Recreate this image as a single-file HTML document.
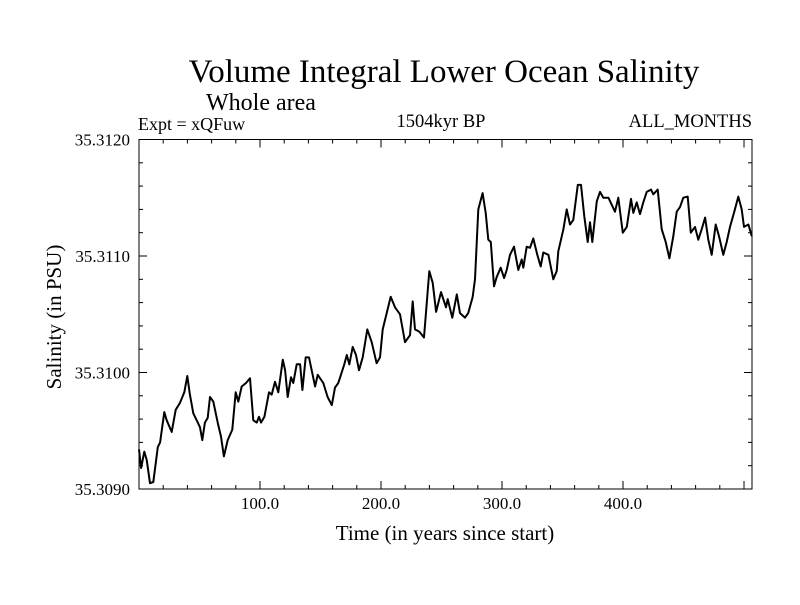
<!DOCTYPE html>
<html><head><meta charset="utf-8"><style>
body{margin:0;background:#fff;}
svg text{font-family:"Liberation Serif",serif;fill:#000;}
</style></head><body>
<svg id="chart" width="800" height="600" xmlns="http://www.w3.org/2000/svg">
<rect width="800" height="600" fill="#fff"/>
<text x="444" y="82" font-size="33" text-anchor="middle">Volume Integral Lower Ocean Salinity</text>
<text x="206" y="110" font-size="24">Whole area</text>
<text x="138" y="130" font-size="18">Expt = xQFuw</text>
<text x="441" y="127" font-size="18.5" text-anchor="middle">1504kyr BP</text>
<text x="752" y="127" font-size="18.5" text-anchor="end">ALL_MONTHS</text>
<text x="445" y="540" font-size="21" text-anchor="middle">Time (in years since start)</text>
<text x="0" y="0" font-size="21" text-anchor="middle" transform="translate(61,317) rotate(-90)">Salinity (in PSU)</text>
<g id="axes"></g>
<g id="series"></g>
<rect x="139" y="139.5" width="613" height="349.5" fill="none" stroke="#000" stroke-width="1"/>
</svg>
<script>
const years=[0,1.7,4.4,6.4,9.1,11.8,15.5,17.4,20.9,22.9,27.0,30.3,33.9,37.4,39.9,42.1,44.9,47.7,50.4,52.3,54.5,56.8,58.7,61.4,65.0,67.8,70.2,73.3,77.1,79.9,82.1,84.9,88.4,91.7,94.5,97.3,99.2,100.8,103.6,107.4,109.7,112.4,115.1,118.8,120.7,122.9,125.6,127.5,130.3,133.1,135.0,137.8,140.5,145.5,147.7,152.3,155.9,159.3,162.0,164.7,169.7,171.7,173.8,176.6,179.3,181.8,184.9,188.7,192.3,196.4,199.2,201.4,204.7,208.0,211.6,215.7,219.8,224.0,226.2,228.1,231.7,235.5,239.9,242.7,245.5,249.6,253.7,255.1,258.9,262.6,265.3,269.4,272.1,275.8,277.7,280.4,284.0,286.5,288.7,290.7,293.4,295.6,298.9,301.7,303.9,306.6,309.9,313.5,316.3,317.6,320.4,323.1,325.9,329.2,332.0,334.1,338.3,342.4,345.2,346.5,350.7,353.5,356.2,358.9,362.6,365.3,368.0,370.8,372.7,374.6,378.3,381.0,383.7,387.9,393.4,396.1,399.8,403.1,406.6,408.5,411.3,414.0,416.8,419.6,423.1,425.0,428.7,432.0,435.3,438.3,441.6,444.4,447.1,449.8,453.5,456.0,459.5,462.2,465.0,467.8,470.5,473.3,476.6,479.3,482.9,485.7,488.4,492.0,495.3,498.1,500.0,503.6,506.4];
const salinity=[35.30934,35.30918,35.30932,35.30925,35.30905,35.30906,35.30936,35.30940,35.30966,35.30959,35.30949,35.30968,35.30974,35.30983,35.30997,35.30981,35.30965,35.30959,35.30953,35.30942,35.30957,35.30961,35.30979,35.30975,35.30957,35.30945,35.30928,35.30942,35.30951,35.30983,35.30975,35.30988,35.30991,35.30995,35.30959,35.30957,35.30962,35.30957,35.30962,35.30983,35.30981,35.30992,35.30983,35.31011,35.31002,35.30979,35.30996,35.30991,35.31007,35.31007,35.30985,35.31013,35.31013,35.30988,35.30998,35.30991,35.30979,35.30972,35.30987,35.30991,35.31007,35.31015,35.31007,35.31022,35.31015,35.31002,35.31013,35.31037,35.31026,35.31008,35.31013,35.31037,35.31051,35.31065,35.31056,35.31050,35.31026,35.31032,35.31061,35.31037,35.31035,35.31030,35.31087,35.31077,35.31052,35.31069,35.31056,35.31063,35.31047,35.31067,35.31051,35.31047,35.31051,35.31065,35.31080,35.31140,35.31154,35.31137,35.31114,35.31112,35.31074,35.31082,35.31090,35.31081,35.31088,35.31101,35.31108,35.31088,35.31097,35.31090,35.31108,35.31107,35.31115,35.31101,35.31091,35.31103,35.31101,35.31080,35.31087,35.31104,35.31123,35.31140,35.31127,35.31131,35.31161,35.31161,35.31134,35.31112,35.31129,35.31112,35.31147,35.31155,35.31150,35.31150,35.31138,35.31150,35.31120,35.31125,35.31149,35.31137,35.31146,35.31136,35.31146,35.31155,35.31157,35.31153,35.31157,35.31123,35.31112,35.31098,35.31117,35.31138,35.31142,35.31150,35.31151,35.31120,35.31125,35.31114,35.31123,35.31133,35.31114,35.31101,35.31127,35.31117,35.31101,35.31112,35.31125,35.31138,35.31151,35.31140,35.31125,35.31127,35.31117];
const xTickValues=[100,200,300,400];
const xTickLabels=["100.0","200.0","300.0","400.0"];
const yTickValues=[35.3090,35.3100,35.3110,35.3120];
const yTickLabels=["35.3090","35.3100","35.3110","35.3120"];

const X0=139,X1=752,Y0=489,Y1=139.5;
const xMin=0,xMax=506.6,yMin=35.3090,yMax=35.3120;
function xs(v){return X0+(v-xMin)/(xMax-xMin)*(X1-X0);}
function ys(v){return Y0-(v-yMin)/(yMax-yMin)*(Y0-Y1);}
const NS="http://www.w3.org/2000/svg";
const axes=document.getElementById('axes');
function line(x1,y1,x2,y2,name){
  const l=document.createElementNS(NS,'line');
  l.setAttribute('x1',x1);l.setAttribute('y1',y1);l.setAttribute('x2',x2);l.setAttribute('y2',y2);
  l.setAttribute('stroke','#000');l.setAttribute('stroke-width','1');
  
  
  axes.appendChild(l);
}
function text(x,y,s,anchor,name){
  const t=document.createElementNS(NS,'text');
  t.setAttribute('x',x);t.setAttribute('y',y);t.setAttribute('font-size','17');
  t.setAttribute('text-anchor',anchor);t.textContent=s;
  
  
  axes.appendChild(t);
}
for(let v=20;v<xMax;v+=20){
  const x=xs(v),L=(v%100===0)?8:4;
  line(x,Y0,x,Y0-L,'x-tick');
  line(x,Y1,x,Y1+L,'x-tick-top');
}
xTickValues.forEach((v,i)=>text(xs(v),509,xTickLabels[i],'middle','x-tick-label'));
for(let k=1;k<15;k++){
  const v=yMin+k*0.0002,y=ys(v),L=(k%5===0)?8:4;
  line(X0,y,X0+L,y,'y-tick');
  line(X1,y,X1-L,y,'y-tick-right');
}
yTickValues.forEach((v,i)=>text(130,ys(v)+6,yTickLabels[i],'end','y-tick-label'));
const p=document.createElementNS(NS,'path');
p.setAttribute('d',years.map((yr,i)=>(i?'L':'M')+xs(yr).toFixed(1)+','+ys(salinity[i]).toFixed(1)).join(''));
p.setAttribute('fill','none');p.setAttribute('stroke','#000');p.setAttribute('stroke-width','2');
p.setAttribute('stroke-linejoin','round');


document.getElementById('series').appendChild(p);
</script>
</body></html>
